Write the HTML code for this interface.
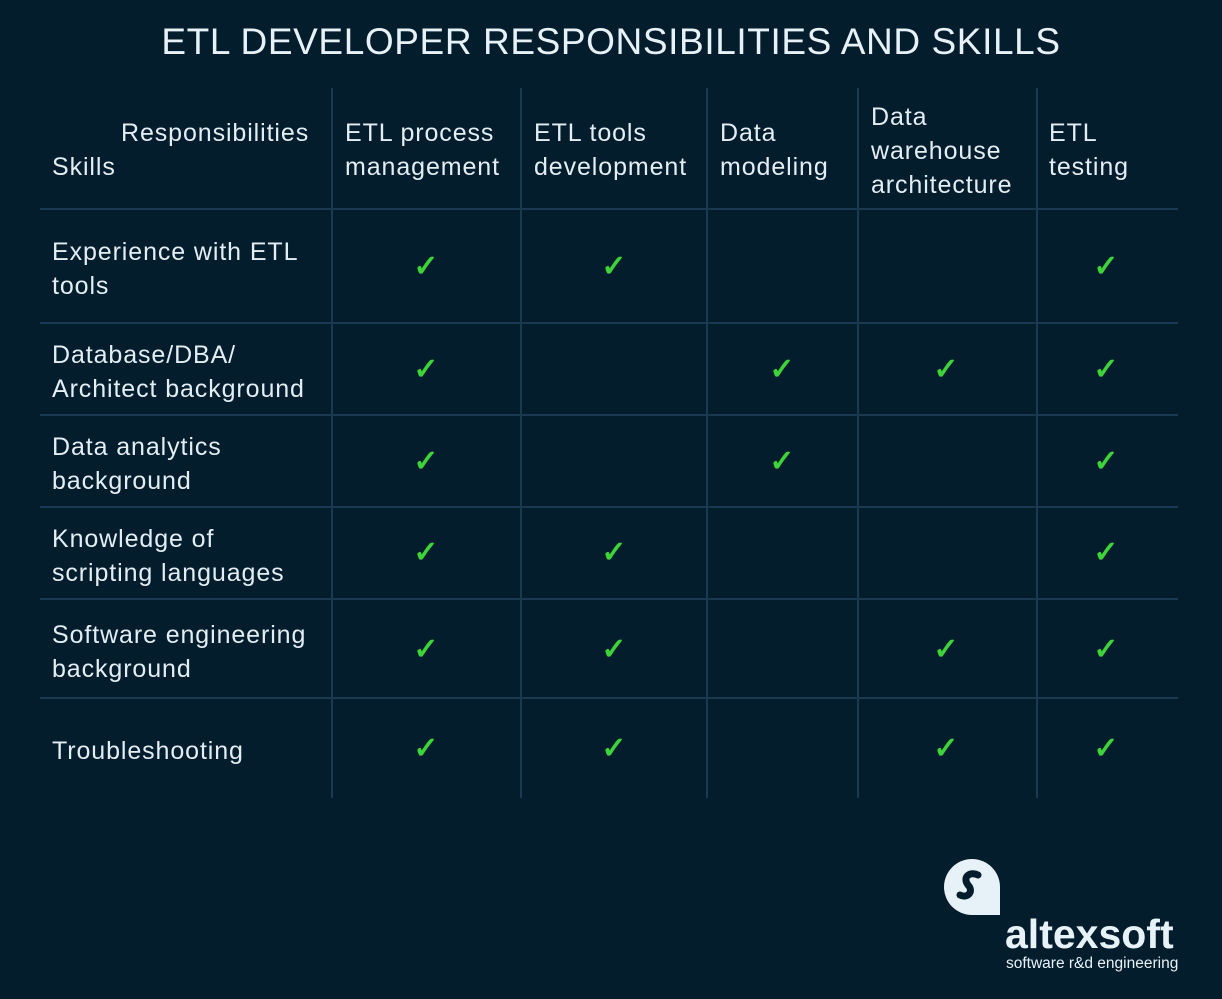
<!DOCTYPE html>
<html><head><meta charset="utf-8"><style>
body{margin:0;background:#041d2d;width:1222px;height:999px;position:relative;overflow:hidden;font-family:"Liberation Sans",sans-serif;color:#e3eef4}
.t{position:absolute;font-size:25px;line-height:34px;white-space:nowrap;letter-spacing:0.9px}
.h{position:absolute;height:2px;background:#1b3950;left:40px;width:1138px}
.v{position:absolute;width:2px;background:#1b3950;top:88px;height:710px}
.c{position:absolute;color:#3ed339;font-size:30px;line-height:30px;font-weight:bold;transform:translate(-50%,-50%)}
</style></head><body>
<div style="position:absolute;top:21px;left:0;width:1222px;text-align:center;font-size:37px;letter-spacing:0.6px;color:#e6f2f8">ETL DEVELOPER RESPONSIBILITIES AND SKILLS</div>
<div class="v" style="left:331px"></div><div class="v" style="left:520px"></div><div class="v" style="left:706px"></div><div class="v" style="left:857px"></div><div class="v" style="left:1036px"></div>
<div class="h" style="top:208px"></div><div class="h" style="top:322px"></div><div class="h" style="top:414px"></div><div class="h" style="top:506px"></div><div class="h" style="top:598px"></div><div class="h" style="top:697px"></div>
<div class="t" style="left:121px;top:116px">Responsibilities</div>
<div class="t" style="left:52px;top:150px">Skills</div>
<div class="t" style="left:345px;top:116px">ETL process<br>management</div>
<div class="t" style="left:534px;top:116px">ETL tools<br>development</div>
<div class="t" style="left:720px;top:116px">Data<br>modeling</div>
<div class="t" style="left:871px;top:100px">Data<br>warehouse<br>architecture</div>
<div class="t" style="left:1049px;top:116px">ETL<br>testing</div>
<div class="t" style="left:52px;top:235px">Experience with ETL<br>tools</div>
<div class="t" style="left:52px;top:338px">Database/DBA/<br>Architect background</div>
<div class="t" style="left:52px;top:430px">Data analytics<br>background</div>
<div class="t" style="left:52px;top:522px">Knowledge of<br>scripting languages</div>
<div class="t" style="left:52px;top:618px">Software engineering<br>background</div>
<div class="t" style="left:52px;top:734px">Troubleshooting</div>
<div class="c" style="left:426px;top:267px">✓</div><div class="c" style="left:614px;top:267px">✓</div><div class="c" style="left:1106px;top:267px">✓</div>
<div class="c" style="left:426px;top:370px">✓</div><div class="c" style="left:782px;top:370px">✓</div><div class="c" style="left:946px;top:370px">✓</div><div class="c" style="left:1106px;top:370px">✓</div>
<div class="c" style="left:426px;top:462px">✓</div><div class="c" style="left:782px;top:462px">✓</div><div class="c" style="left:1106px;top:462px">✓</div>
<div class="c" style="left:426px;top:553px">✓</div><div class="c" style="left:614px;top:553px">✓</div><div class="c" style="left:1106px;top:553px">✓</div>
<div class="c" style="left:426px;top:650px">✓</div><div class="c" style="left:614px;top:650px">✓</div><div class="c" style="left:946px;top:650px">✓</div><div class="c" style="left:1106px;top:650px">✓</div>
<div class="c" style="left:426px;top:749px">✓</div><div class="c" style="left:614px;top:749px">✓</div><div class="c" style="left:946px;top:749px">✓</div><div class="c" style="left:1106px;top:749px">✓</div>
<svg style="position:absolute;left:942px;top:857px" width="60" height="60" viewBox="0 0 60 60">
<path d="M30 2 A28 28 0 1 0 30 58 L58 58 L58 30 A28 28 0 0 0 30 2Z" fill="#e6f2f8"/>
<path d="M36 18 C28 14 20 20 26 28 C32 34 26 42 18 38" stroke="#041d2d" stroke-width="7" fill="none" stroke-linecap="round"/>
</svg>
<div style="position:absolute;left:1005px;top:912px;font-size:41px;font-weight:bold;color:#e6f2f8;line-height:44px">altexsoft</div>
<div style="position:absolute;left:1006px;top:956px;font-size:15.5px;color:#e6f2f8;line-height:16px">software r&amp;d engineering</div>
</body></html>
